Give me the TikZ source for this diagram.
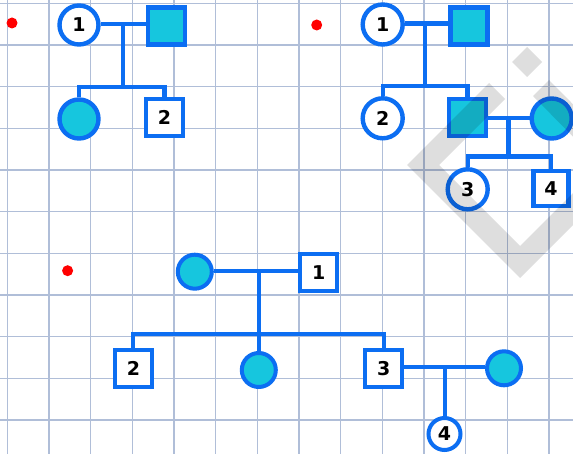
\documentclass[tikz,border=0pt]{standalone}
\usepackage{fontspec}
\setmainfont{DejaVu Sans}
\definecolor{pblue}{RGB}{12,110,242}
\definecolor{pcyan}{RGB}{22,198,222}
\definecolor{gridc}{RGB}{176,190,216}
\begin{document}
\begin{tikzpicture}[x=1pt,y=-1pt,
  gridline/.style={draw=gridc,line width=1.5pt},
  fem/.style={circle,draw=pblue,line width=4.4pt,fill=white,minimum size=39pt,inner sep=0pt,
    font=\bfseries\fontsize{19}{19}\selectfont},
  femA/.style={fem,fill=pcyan},
  male/.style={rectangle,draw=pblue,line width=4.4pt,fill=white,minimum size=37pt,inner sep=0pt,
    font=\bfseries\fontsize{19}{19}\selectfont},
  maleA/.style={male,fill=pcyan},
  link/.style={draw=pblue,line width=4.4pt},
  thin/.style={line width=4pt},
  rdot/.style={circle,fill=red,minimum size=11pt,inner sep=0pt},
  wmark/.style={fill=black,opacity=0.13}]
\useasboundingbox (0,0) rectangle (573,454);
\clip (0,0) rectangle (573,454);
\fill[white] (0,0) rectangle (573,454);
% grid
\foreach \i in {0,...,13} {\draw[gridline] (7.33+41.667*\i,0) -- (7.33+41.667*\i,454);}
\foreach \j in {0,...,10} {\draw[gridline] (0,3.33+41.667*\j) -- (573,3.33+41.667*\j);}

% ---------- panel 1 ----------
\node[rdot] (r1) at (12,23) {};
\coordinate (m1) at (122.7,24);
\coordinate (s1) at (122.7,87);
\draw[link] (m1) -- (s1);
\node[fem] (A1) at (79,25) {1};
\node[maleA] (A2) at (166.5,26) {};
\node[femA] (C1) at (79,119) {};
\node[male] (C2) at (164.5,117.5) {2};
\draw[link] (A1.east |- m1) -- (A2.west |- m1);
\draw[link] (C1.north) |- (s1) -| (C2.north);

% ---------- panel 2 ----------
\node[rdot] (r2) at (316.7,25) {};
\coordinate (m2) at (425,23.5);
\coordinate (s2) at (425,86);
\draw[link] (m2) -- (s2);
\node[fem,minimum size=40pt] (B1) at (382.7,24.5) {1};
\node[maleA] (B2) at (469,26) {};
\node[fem,minimum size=40pt] (B3) at (382.7,118.3) {2};
\node[maleA] (B4) at (467.5,117.5) {};
\node[femA,minimum size=40pt] (B5) at (551.7,118.5) {};
\draw[link] (B1.east |- m2) -- (B2.west |- m2);
\draw[link] (B3.north) |- (s2) -| (B4.north);
\coordinate (m3) at (508.3,118);
\coordinate (s3) at (508.3,156.7);
\draw[link] (m3) -- (s3);
\draw[link] (B4.east |- m3) -- (B5.west |- m3);
\node[fem,minimum size=40pt] (B6) at (467.7,189.3) {3};
\node[male,minimum size=35pt] (B7) at (551,188.8) {4};
\draw[link] (B6.north) |- (s3) -| (B7.north);

% ---------- panel 3 ----------
\node[rdot] (r3) at (67.6,270.7) {};
\coordinate (m4) at (258.8,271.5);
\coordinate (s4) at (258.8,334.3);
\draw[link,thin] (m4) -- (s4);
\node[femA,minimum size=34pt,thin] (D1) at (194.8,271.7) {};
\node[male,thin] (D2) at (318.7,272.5) {1};
\draw[link,thin] (D1.east |- m4) -- (D2.west |- m4);
\node[male,thin] (D3) at (133.4,368.3) {2};
\node[femA,minimum size=34pt,thin] (D4) at (258.8,370) {};
\node[male,thin] (D5) at (383.8,368.3) {3};
\draw[link,thin] (D3.north) |- (s4) -| (D5.north);
\draw[link,thin] (s4) -- (D4.north);
\node[femA,minimum size=34pt,thin] (D6) at (504,368.3) {};
\coordinate (m5) at (444.5,366.5);
\draw[link,thin] (D5.east |- m5) -- (D6.west |- m5);
\node[fem,minimum size=32pt,thin] (D7) at (444.5,434) {4};
\draw[link,thin] (m5) -- (D7.north);

% ---------- watermark ----------
\fill[wmark] (489,83) -- (407,165) -- (520,278) -- (633,165) -- (549,80)
  -- (533,96) -- (601,165) -- (520,246) -- (439,165) -- (505,99) -- cycle;
\fill[wmark] (512,62) -- (527,47) -- (542,62) -- (527,77) -- cycle;
\end{tikzpicture}
\end{document}
